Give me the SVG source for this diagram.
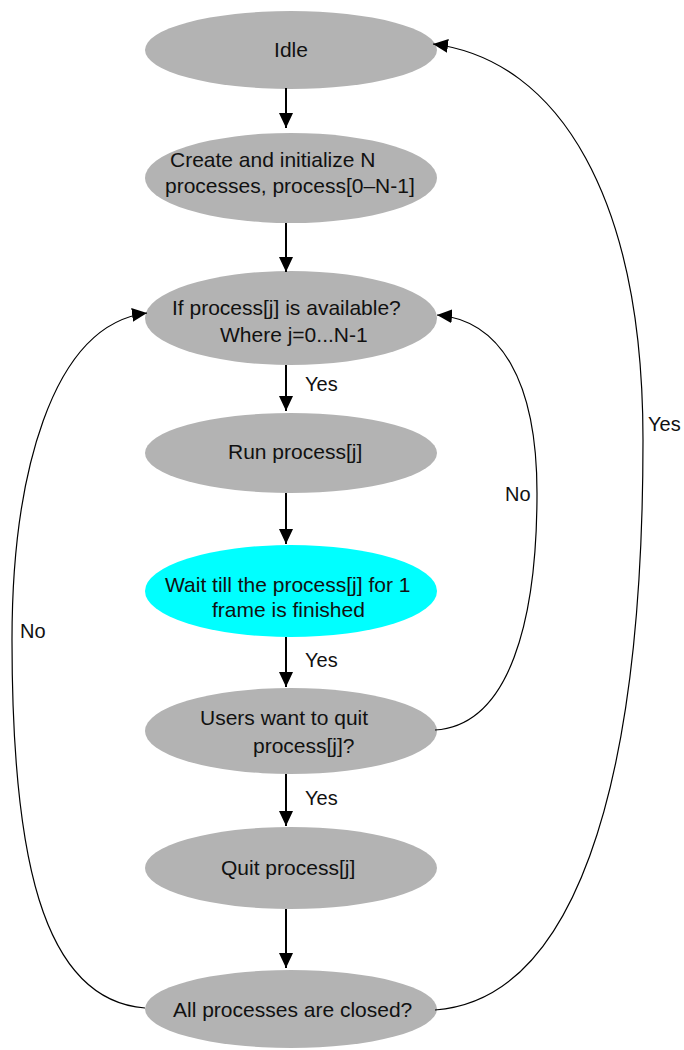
<svg xmlns="http://www.w3.org/2000/svg" width="684" height="1050" viewBox="0 0 684 1050">
<style>
.g{fill:#b3b3b3}
.c{fill:#00ffff}
text{font-family:"Liberation Sans",Arial,sans-serif;font-size:21px;fill:#111}
.lbl{font-size:20px}
.mid{text-anchor:middle}
.v{stroke:#000;stroke-width:2;fill:none}
.cv{stroke:#000;stroke-width:1.2;fill:none}
</style>
<defs>
<marker id="ah" markerUnits="userSpaceOnUse" markerWidth="15" markerHeight="14" refX="15" refY="7" orient="auto">
<path d="M0,0 L15,7 L0,14 z" fill="#000"/>
</marker>
</defs>
<g id="idle"><ellipse class="g" cx="291" cy="50" rx="146" ry="39"/><text class="mid" x="291" y="57">Idle</text></g>
<g id="create"><ellipse class="g" cx="291" cy="178" rx="146" ry="45"/><text x="170" y="167">Create and initialize N</text><text x="165" y="193">processes, process[0–N-1]</text></g>
<g id="ifavail"><ellipse class="g" cx="291" cy="318" rx="146" ry="47"/><text x="172" y="315">If process[j] is available?</text><text x="220" y="342">Where j=0...N-1</text></g>
<g id="run"><ellipse class="g" cx="291" cy="453" rx="146" ry="40"/><text x="228" y="459">Run process[j]</text></g>
<g id="wait"><ellipse class="c" cx="291" cy="591" rx="146" ry="46"/><text x="165" y="592">Wait till the process[j] for 1</text><text x="212" y="617">frame is finished</text></g>
<g id="users"><ellipse class="g" cx="291" cy="731" rx="146" ry="43"/><text x="200" y="725">Users want to quit</text><text x="253" y="753">process[j]?</text></g>
<g id="quit"><ellipse class="g" cx="291" cy="868" rx="146" ry="41"/><text x="221" y="875">Quit process[j]</text></g>
<g id="allclosed"><ellipse class="g" cx="291" cy="1009" rx="146" ry="39"/><text x="173" y="1017">All processes are closed?</text></g>
<g id="connectors">
<line class="v" x1="286" y1="88" x2="286" y2="128" marker-end="url(#ah)"/>
<line class="v" x1="286" y1="223" x2="286" y2="272" marker-end="url(#ah)"/>
<line class="v" x1="286" y1="365" x2="286" y2="411" marker-end="url(#ah)"/>
<line class="v" x1="286" y1="493" x2="286" y2="544" marker-end="url(#ah)"/>
<line class="v" x1="286" y1="637" x2="286" y2="687" marker-end="url(#ah)"/>
<line class="v" x1="286" y1="774" x2="286" y2="826" marker-end="url(#ah)"/>
<line class="v" x1="286" y1="909" x2="286" y2="968" marker-end="url(#ah)"/>
<path class="cv" d="M145,1008 C40,1000 12,850 12,640 C12,480 50,325 147,313" marker-end="url(#ah)"/>
<path class="cv" d="M435,730 C510,725 537,620 537,493 C537,380 500,320 437,315" marker-end="url(#ah)"/>
<path class="cv" d="M435,1010 C570,1000 643,800 643,440 C643,200 560,60 433,44" marker-end="url(#ah)"/>
<text class="lbl" x="305" y="391">Yes</text>
<text class="lbl" x="305" y="667">Yes</text>
<text class="lbl" x="305" y="805">Yes</text>
<text class="lbl" x="505" y="501">No</text>
<text class="lbl" x="20" y="638">No</text>
<text class="lbl" x="648" y="431">Yes</text>
</g>
</svg>
